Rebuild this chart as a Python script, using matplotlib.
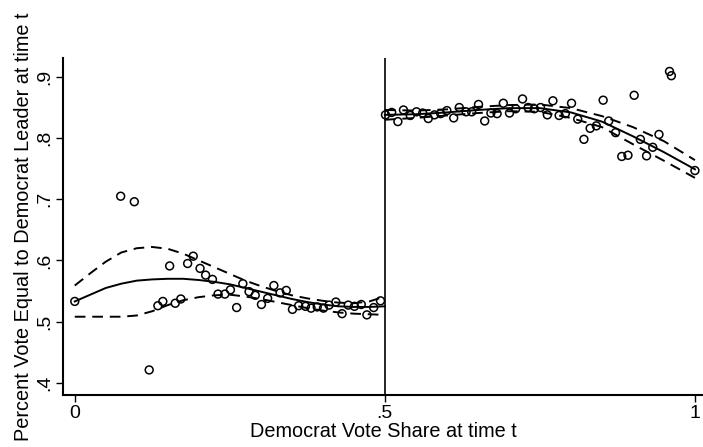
import matplotlib
matplotlib.use('Agg')
import matplotlib.pyplot as plt
import numpy as np

plt.rcParams['font.family'] = ['Liberation Sans', 'DejaVu Sans']

# binned means, left of the cutoff
left_x = [0.0, 0.074, 0.096, 0.120, 0.134, 0.142, 0.153, 0.162, 0.171, 0.182,
          0.191, 0.202, 0.211, 0.222, 0.231, 0.242, 0.251, 0.261, 0.271, 0.281,
          0.291, 0.301, 0.311, 0.321, 0.331, 0.341, 0.351, 0.361, 0.372, 0.381,
          0.391, 0.401, 0.410, 0.421, 0.431, 0.441, 0.451, 0.462, 0.471, 0.482,
          0.493]
left_y = [0.533, 0.705, 0.696, 0.421, 0.526, 0.533, 0.591, 0.530, 0.537, 0.595,
          0.607, 0.587, 0.576, 0.569, 0.545, 0.545, 0.552, 0.523, 0.562, 0.549,
          0.543, 0.528, 0.538, 0.559, 0.547, 0.551, 0.520, 0.526, 0.525, 0.522,
          0.524, 0.522, 0.527, 0.532, 0.513, 0.527, 0.525, 0.528, 0.511, 0.523,
          0.534]

# binned means, right of the cutoff
right_x = [0.501, 0.511, 0.521, 0.530, 0.541, 0.551, 0.561, 0.570, 0.580, 0.590,
           0.600, 0.611, 0.620, 0.631, 0.640, 0.651, 0.661, 0.671, 0.681, 0.691,
           0.701, 0.711, 0.722, 0.731, 0.741, 0.751, 0.762, 0.771, 0.781, 0.791,
           0.801, 0.811, 0.821, 0.831, 0.841, 0.852, 0.861, 0.872, 0.882, 0.892,
           0.902, 0.912, 0.922, 0.932, 0.942, 0.959, 0.962, 1.0]
right_y = [0.838, 0.842, 0.827, 0.846, 0.837, 0.843, 0.841, 0.832, 0.838, 0.840,
           0.845, 0.833, 0.850, 0.843, 0.843, 0.855, 0.828, 0.841, 0.840, 0.857,
           0.841, 0.848, 0.864, 0.850, 0.848, 0.850, 0.838, 0.861, 0.837, 0.840,
           0.857, 0.831, 0.798, 0.816, 0.820, 0.862, 0.828, 0.809, 0.770, 0.772,
           0.870, 0.798, 0.771, 0.785, 0.806, 0.909, 0.902, 0.747]

# fitted polynomial and confidence band
fit_lx = [0.0, 0.025, 0.05, 0.075, 0.1, 0.125, 0.15, 0.175, 0.2, 0.225, 0.25,
          0.275, 0.3, 0.325, 0.35, 0.375, 0.4, 0.425, 0.45, 0.475, 0.5]
fit_ly = [0.533, 0.544, 0.555, 0.562, 0.567, 0.569, 0.570, 0.570, 0.568, 0.565,
          0.561, 0.555, 0.549, 0.543, 0.537, 0.532, 0.528, 0.525, 0.524, 0.524, 0.525]
fit_lhi = [0.559, 0.579, 0.598, 0.613, 0.620, 0.622, 0.619, 0.611, 0.600, 0.589,
           0.578, 0.567, 0.558, 0.550, 0.543, 0.538, 0.534, 0.531, 0.530, 0.533, 0.541]
fit_llo = [0.508, 0.508, 0.508, 0.508, 0.510, 0.517, 0.527, 0.535, 0.540, 0.543,
           0.544, 0.541, 0.537, 0.532, 0.527, 0.522, 0.518, 0.515, 0.513, 0.512, 0.511]

fit_rx = [0.5, 0.55, 0.6, 0.65, 0.7, 0.75, 0.8, 0.85, 0.9, 0.95, 1.0]
fit_ry = [0.838, 0.839, 0.842, 0.846, 0.849, 0.849, 0.842, 0.827, 0.803, 0.777, 0.749]
fit_rhi = [0.846, 0.845, 0.847, 0.851, 0.854, 0.855, 0.849, 0.836, 0.818, 0.795, 0.764]
fit_rlo = [0.830, 0.833, 0.837, 0.841, 0.844, 0.843, 0.833, 0.818, 0.790, 0.763, 0.735]

xticks = [0, 0.5, 1]
xticklabels = ['0', '.5', '1']
yticks = [0.4, 0.5, 0.6, 0.7, 0.8, 0.9]
yticklabels = ['.4', '.5', '.6', '.7', '.8', '.9']

fig = plt.figure(figsize=(7.03, 4.47), dpi=100)
ax = fig.add_axes([0.0896, 0.1163, 0.9104, 0.7540])

dash = (0, (5.5, 3.5))
for fx, fy, hi, lo in [(fit_lx, fit_ly, fit_lhi, fit_llo), (fit_rx, fit_ry, fit_rhi, fit_rlo)]:
    ax.plot(fx, fy, color='black', lw=1.4)
    ax.plot(fx, hi, color='black', lw=1.4, linestyle=dash)
    ax.plot(fx, lo, color='black', lw=1.4, linestyle=dash)

ax.scatter(left_x, left_y, s=32, facecolors='none', edgecolors='black', linewidths=1.1, zorder=3)
ax.scatter(right_x, right_y, s=32, facecolors='none', edgecolors='black', linewidths=1.1, zorder=3)

ax.axvline(0.5, color='black', lw=1.2)

ax.set_xlim(-0.019, 1.013)
ax.set_ylim(0.380, 0.931)
ax.set_xticks(xticks)
ax.set_xticklabels(xticklabels)
ax.set_yticks(yticks)
ax.set_yticklabels(yticklabels, rotation=90, va='center')
ax.tick_params(direction='out', length=5, width=1, labelsize=14, pad=2)

for s in ['top', 'right']:
    ax.spines[s].set_visible(False)
ax.spines['left'].set_linewidth(1.5)
ax.spines['bottom'].set_linewidth(1.5)

ax.set_xlabel('Democrat Vote Share at time t', fontsize=14.3, labelpad=0)
ax.set_ylabel('Percent Vote Equal to Democrat Leader at time t', fontsize=14.3, labelpad=2)

fig.savefig('out.png', dpi=100)
